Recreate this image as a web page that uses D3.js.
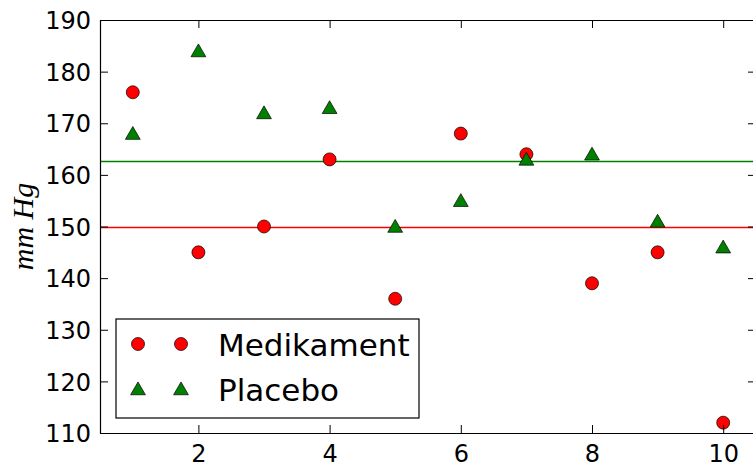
<!DOCTYPE html>
<head>
<meta charset="utf-8">
<script src="https://d3js.org/d3.v7.min.js"></script>
<style>
body { margin: 0; background: #fff; }
text { font-family: "DejaVu Sans", sans-serif; }
</style>
</head>
<body>
<svg id="chart"></svg>
<script>

// data
var days = [1, 2, 3, 4, 5, 6, 7, 8, 9, 10];
var medikament = [176, 145, 150, 163, 136, 168, 164, 139, 145, 112];
var placebo = [168, 184, 172, 173, 150, 155, 163, 164, 151, 146];
var xTicks = [2, 4, 6, 8, 10];
var yTicks = [110, 120, 130, 140, 150, 160, 170, 180, 190];

var width = 753, height = 466;
var margin = {top: 20, left: 100, bottom: 33};

var svg = d3.select("#chart")
    .attr("width", width)
    .attr("height", height);

var x = d3.scaleLinear().domain([0.5, 10.5]).range([margin.left, margin.left + 656]);
var y = d3.scaleLinear().domain([110, 190]).range([height - margin.bottom, margin.top]);

var x0 = x.range()[0], x1 = x.range()[1], y0 = y.range()[0], y1 = y.range()[1];

// mean lines
var lines = [
    {v: d3.mean(medikament), c: "#ff0000"},
    {v: d3.mean(placebo), c: "#008000"}
];
svg.selectAll("line.mean")
    .data(lines)
    .join("line")
    .attr("class", "mean")
    .attr("x1", x0).attr("x2", x1)
    .attr("y1", d => y(d.v)).attr("y2", d => y(d.v))
    .attr("stroke", d => d.c)
    .attr("stroke-width", 1.5);

var tri = d3.symbol().type(d3.symbolTriangle).size(95);

// points
svg.selectAll("circle.med")
    .data(days)
    .join("circle")
    .attr("class", "med")
    .attr("cx", (d) => x(d))
    .attr("cy", (d, i) => y(medikament[i]))
    .attr("r", 6.5)
    .attr("fill", "#ff0000")
    .attr("stroke", "#000")
    .attr("stroke-width", 0.7);

svg.selectAll("path.pla")
    .data(days)
    .join("path")
    .attr("class", "pla")
    .attr("d", tri)
    .attr("transform", (d, i) => "translate(" + x(d) + "," + (y(placebo[i]) + 1.5) + ")")
    .attr("fill", "#008000")
    .attr("stroke", "#000")
    .attr("stroke-width", 0.7);

// axes (classic matplotlib: ticks inward on all sides)
var tick = 8;
var axBottom = svg.append("g").attr("transform", "translate(0," + y0 + ")")
    .call(d3.axisBottom(x).tickValues(xTicks).tickSize(-tick).tickPadding(12).tickSizeOuter(0));
var axTop = svg.append("g").attr("transform", "translate(0," + y1 + ")")
    .call(d3.axisTop(x).tickValues(xTicks).tickSize(-tick).tickFormat("").tickSizeOuter(0));
var axLeft = svg.append("g").attr("transform", "translate(" + x0 + ",0)")
    .call(d3.axisLeft(y).tickValues(yTicks).tickSize(-tick).tickPadding(9).tickSizeOuter(0));
var axRight = svg.append("g").attr("transform", "translate(" + x1 + ",0)")
    .call(d3.axisRight(y).tickValues(yTicks).tickSize(-tick).tickFormat("").tickSizeOuter(0));

[axBottom, axTop, axLeft, axRight].forEach(function(g) {
    g.select(".domain").attr("stroke", "#000").attr("stroke-width", 1.2);
    g.selectAll(".tick line").attr("stroke", "#000").attr("stroke-width", 1);
    g.selectAll("text").attr("fill", "#000").style("font-size", "24px")
        .style("font-family", "'DejaVu Sans', sans-serif");
});
axBottom.selectAll("text").attr("dy", "0.71em");
axLeft.selectAll("text").attr("dy", "0.36em");

// y label
svg.append("text")
    .attr("transform", "translate(33," + ((y0 + y1) / 2) + ") rotate(-90)")
    .attr("text-anchor", "middle")
    .style("font-family", "'Liberation Serif', 'DejaVu Serif', serif")
    .style("font-style", "italic")
    .style("font-size", "30px")
    .text("mm Hg");

// legend
var legend = svg.append("g");
legend.append("rect")
    .attr("x", 116).attr("y", 319)
    .attr("width", 303).attr("height", 99)
    .attr("fill", "#fff")
    .attr("stroke", "#000")
    .attr("stroke-width", 1.2);

var legendItems = [{name: "Medikament", kind: "c"}, {name: "Placebo", kind: "t"}];
legendItems.forEach(function(item, i) {
    var ly = 344 + i * 45;
    [138, 181].forEach(function(lx) {
        if (item.kind === "c") {
            legend.append("circle").attr("cx", lx).attr("cy", ly).attr("r", 6.5)
                .attr("fill", "#ff0000").attr("stroke", "#000").attr("stroke-width", 0.7);
        } else {
            legend.append("path").attr("d", tri)
                .attr("transform", "translate(" + lx + "," + (ly + 1.5) + ")")
                .attr("fill", "#008000").attr("stroke", "#000").attr("stroke-width", 0.7);
        }
    });
    legend.append("text")
        .attr("x", 218).attr("y", ly + 12)
        .style("font-size", "31px")
        .text(item.name);
});

</script>
</body>
